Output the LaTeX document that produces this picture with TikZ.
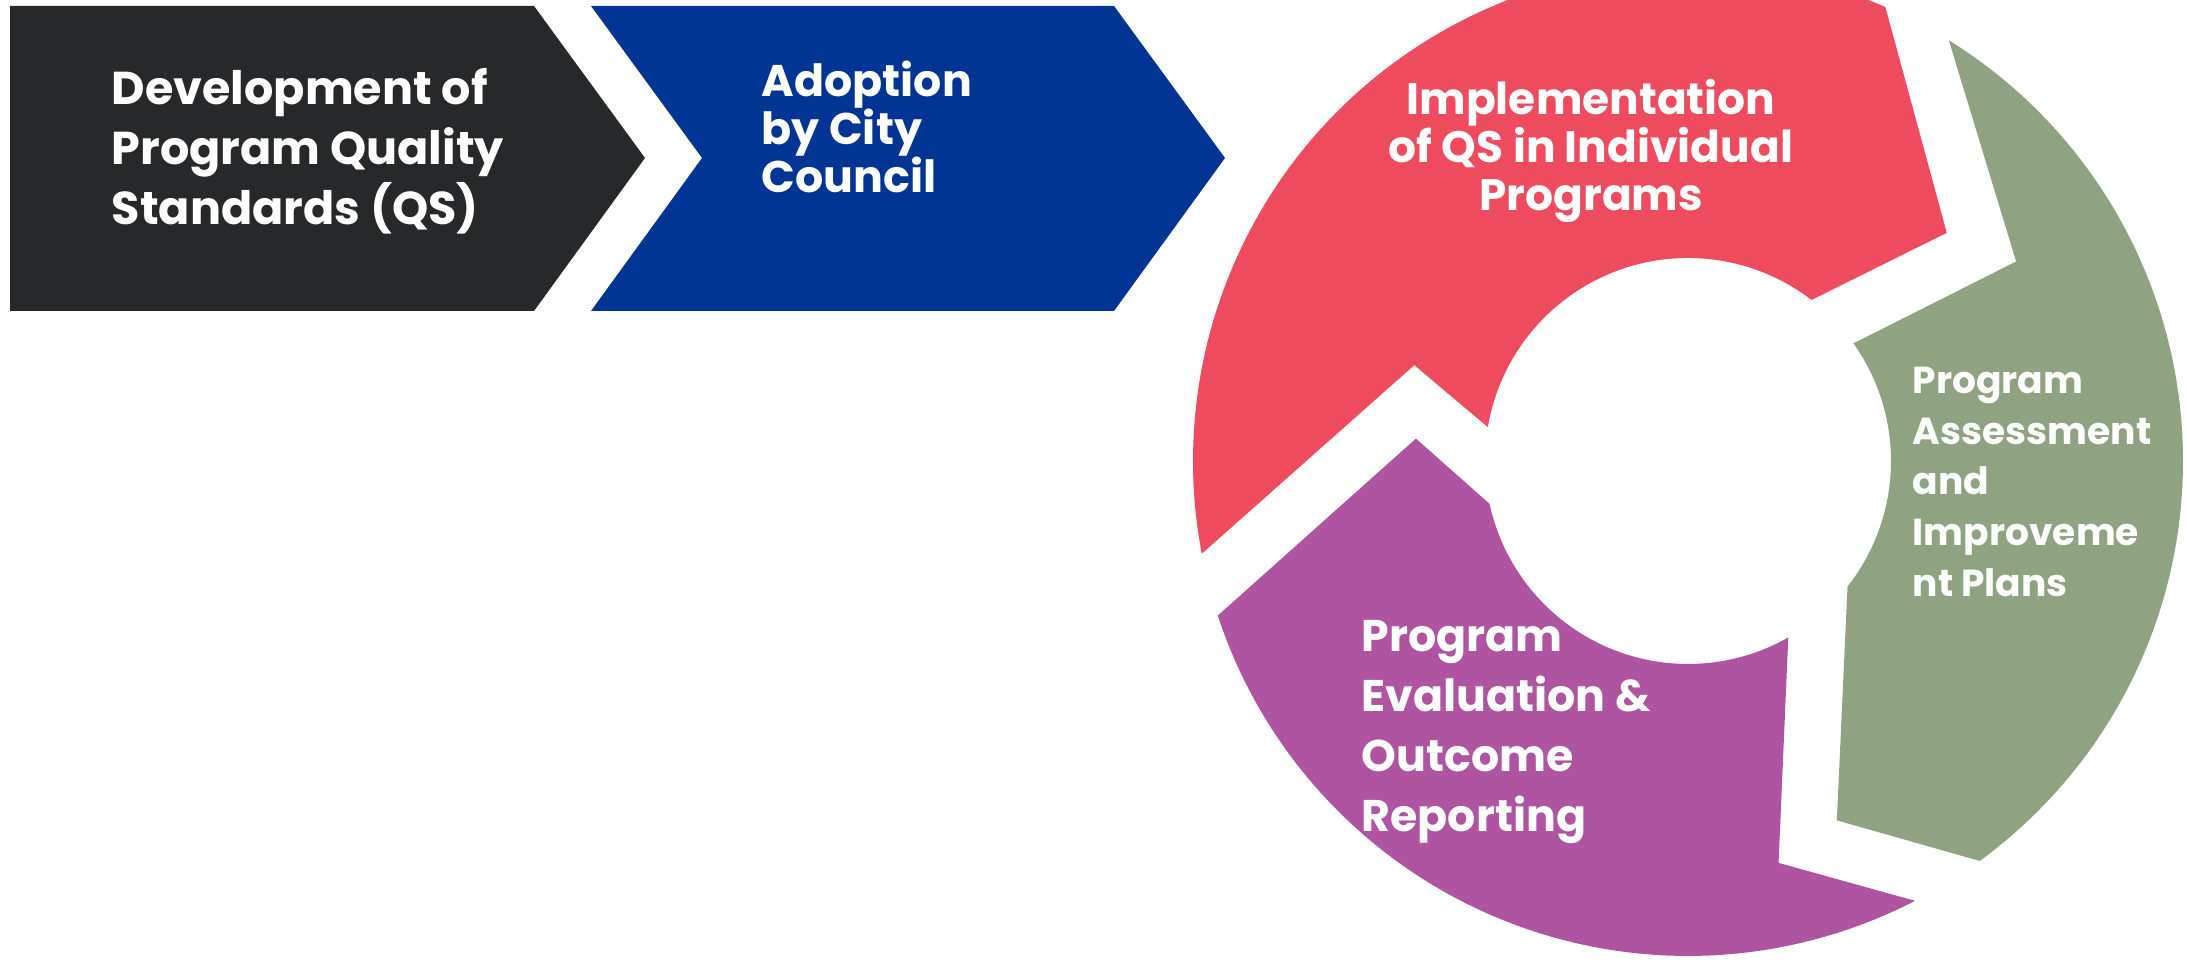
\documentclass[tikz,border=0pt]{standalone}
\usepackage{fontspec}
\setmainfont{Poppins}
\usetikzlibrary{calc}
\definecolor{darkgrey}{RGB}{38,40,41}
\definecolor{cityblue}{RGB}{0,53,148}
\definecolor{qsred}{RGB}{239,75,95}
\definecolor{sage}{RGB}{143,163,130}
\definecolor{plum}{RGB}{174,84,160}
\tikzset{steptext/.style={text=white, inner sep=0pt, align=left, anchor=base west}}
\tikzset{bigtext/.style={steptext, font=\bfseries\fontsize{13.1}{17.1}\selectfont}}
\tikzset{ringtext/.style={steptext, font=\bfseries\fontsize{12.5}{13.7}\selectfont}}

\begin{document}
\begin{tikzpicture}[x=0.01cm, y=0.01cm]
\clip (0,0) rectangle (2187,965);
\coordinate (c) at (1688,504);
% the two chevrons
\fill[darkgrey] (10,959) -- (534,959) -- (645,807) -- (534,654) -- (10,654) -- cycle;
\fill[cityblue] (591,959) -- (1114,959) -- (1225,807) -- (1114,654) -- (591,654) -- (702,807) -- cycle;
% the ring of three arrows
\fill[qsred] ($(c)+(66.5:495)$) arc[start angle=66.5, end angle=190.8, radius=495]
  -- ($(c)+(160.7:290)$) -- ($(c)+(170.4:203)$) arc[start angle=170.4, end angle=52.5, radius=203]
  -- ($(c)+(41.4:345)$) -- cycle;
\fill[sage] ($(c)+(58.2:495)$) -- ($(c)+(31.3:384)$) -- ($(c)+(35.4:203)$)
  arc[start angle=35.4, end angle=-38.2, radius=203] -- ($(c)+(-67.5:389)$)
  -- ($(c)+(-53.9:495)$) arc[start angle=-53.9, end angle=58.2, radius=495] -- cycle;
\fill[plum] ($(c)+(198.2:495)$) arc[start angle=198.2, end angle=297.3, radius=495]
  -- ($(c)+(282.7:412)$) -- ($(c)+(299.6:203)$) arc[start angle=299.6, end angle=192.2, radius=203]
  -- ($(c)+(175.3:273)$) -- cycle;
% texts (anchored on the baseline of their last line)
\node[bigtext] (develop) at (111,740) {Development of\\Program Quality\\Standards (QS)};
\node[steptext, font=\bfseries\fontsize{12.6}{13.7}\selectfont] (adopt) at (761,772) {Adoption\\by City\\Council};
\node[ringtext, align=center, anchor=base] (implement) at (1591,754) {Implementation\\of QS in Individual\\Programs};
\node[steptext, font=\bfseries\fontsize{10.7}{14.5}\selectfont] (assess) at (1912,368) {Program\\Assessment\\and\\Improveme\\nt Plans};
\node[steptext, font=\bfseries\fontsize{12.6}{17.1}\selectfont] (evaluate) at (1361,133) {Program\\Evaluation \&\\Outcome\\Reporting};
\end{tikzpicture}
\end{document}
